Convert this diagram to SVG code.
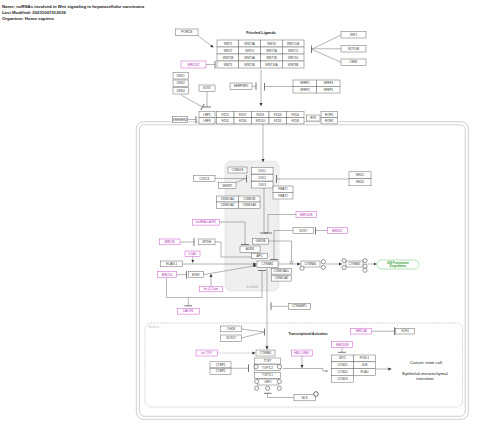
<svg xmlns="http://www.w3.org/2000/svg" width="480" height="428" viewBox="0 0 480 428">
<style>
text{font-family:"Liberation Sans",Arial,sans-serif}
.hd{font-size:4.3px;font-weight:bold;fill:#222}
.n rect{fill:#fff;stroke:#666;stroke-width:0.5}
.n text{font-size:3px;fill:#333;text-anchor:middle;dominant-baseline:central}
.p rect{stroke:#cc55cc}
.p text{fill:#b030b0}
.e{fill:none;stroke:#777;stroke-width:0.55}
.ar{marker-end:url(#a)}
.tb{marker-end:url(#t)}
.s{fill:#fff;stroke:#333;stroke-width:0.5}
.lbl{font-size:3.8px;font-weight:bold;fill:#222;text-anchor:middle}
.cell{fill:none;stroke:#bbb;stroke-width:0.7}
</style>
<defs>
<marker id="a" viewBox="0 0 6 6" refX="6" refY="3" markerWidth="3.2" markerHeight="3.2" orient="auto" markerUnits="userSpaceOnUse"><path d="M0,0L6,3L0,6z" fill="#333"/></marker>
<marker id="t" viewBox="0 0 2 8" refX="1" refY="4" markerWidth="2" markerHeight="8" orient="auto" markerUnits="userSpaceOnUse"><path d="M1,0V8" stroke="#555" stroke-width="0.8"/></marker>
<marker id="o" viewBox="0 0 6 6" refX="6" refY="3" markerWidth="3" markerHeight="3" orient="auto" markerUnits="userSpaceOnUse"><path d="M0,0L6,3L0,6" fill="none" stroke="#555" stroke-width="0.8"/></marker>
</defs>
<rect width="480" height="428" fill="#fff"/>
<text class="hd" x="2" y="8">Name: ncRNAs involved in Wnt signaling in hepatocellular carcinoma</text>
<text class="hd" x="2" y="13.8">Last Modified: 20231007012036</text>
<text class="hd" x="2" y="19.6">Organism: Homo sapiens</text>

<g id="compartments">
<rect class="cell" x="136.3" y="121.8" width="332" height="297.5" rx="7"/>
<rect class="cell" x="139.3" y="124.8" width="326" height="291.5" rx="5"/>
<rect x="145" y="323" width="317.5" height="84" rx="6" fill="none" stroke="#aaa" stroke-width="0.6" stroke-dasharray="1,0.8"/>
<text x="148.3" y="327.8" font-size="3px" fill="#bbb">Nucleus</text>
<rect x="225" y="161" width="54" height="130" rx="6" fill="#efefef" stroke="#ddd" stroke-width="0.6"/>
<text x="252" y="287.5" font-size="3.2px" fill="#aaa" text-anchor="middle">Scaffold</text>
</g>

<g id="labels">
<text class="lbl" x="261" y="34.3">Frizzled Ligands</text>
<text x="308" y="334.8" font-size="3.2px" font-weight="bold" fill="#222" text-anchor="middle">Transcriptional Activation</text>
<text x="426" y="364" font-size="4.3px" fill="#222" text-anchor="middle">Cancer stem cell</text>
<text x="425" y="375" font-size="4.3px" fill="#222" text-anchor="middle">Epithelial-mesenchymal</text>
<text x="425" y="380.3" font-size="4.3px" fill="#222" text-anchor="middle">transition</text>
</g>

<g id="connectors">
<path class="e ar" d="M197,35L213.5,47.5"/>
<path class="e tb" d="M206,64.5H215"/>
<path class="e" d="M341,35L311.5,49.3M341,48.8H311.5M341,62.3L311.5,49.3"/>
<path d="M311.5,45.5V53" stroke="#555" stroke-width="0.8"/>
<path class="e ar" d="M261,70V106"/>
<path class="e tb" d="M252,86.3H256"/>
<path class="e tb" d="M293,86.5H264.5"/>
<path class="e tb" d="M181,95L202.5,107"/>
<path class="e tb" d="M207,91.5V107"/>
<path class="e tb" d="M187.5,119.5H196"/>
<path class="e ar" d="M263,124V162"/>
<path class="e tb" d="M215,178.5H246.5"/>
<path class="e" d="M236,182.5L245.5,178.5"/>
<path class="e tb" d="M349,179H276.5"/>
<path class="e tb" d="M264,188V233"/>
<path class="e tb" d="M296,214.5H268V233"/>
<path class="e tb" d="M293,230.5H274V259.5"/>
<path class="e tb" d="M327.3,230.5H315.5"/>
<path class="e tb" d="M219.3,222H245V244.5"/>
<path class="e tb" d="M180,242H194"/>
<path class="e" d="M215,242H221V257H251.7"/>
<path class="e ar" d="M192.7,256.5V262.8"/>
<path class="e ar" d="M182.7,264H256.5"/>
<path class="e tb" d="M176.7,274.7H186.5"/>
<path class="e ar" d="M203.3,274.7L256.5,265.5"/>
<path class="e ar" d="M211,286.3V274"/>
<path class="e tb" d="M166.5,277.7V297.5H188.3V305.8"/>
<path class="e tb" d="M188.3,297.5H262V270.5"/>
<path class="e ar" d="M267,267.3V349.5"/>
<path class="e tb" d="M288.3,306.3H271"/>
<path class="e" d="M241.7,329L264.5,332M241.7,338L264.5,332"/>
<path d="M264.5,328.5V335.5" stroke="#555" stroke-width="0.8"/>
<path class="e ar" d="M217.3,353H255.5" stroke-dasharray="0.8,0.8"/>
<path class="e tb" d="M231,368.3H248.5"/>
<path class="e ar" d="M302,356V368"/>
<path class="e" d="M282.5,368.5H323V371H327.5" marker-end="url(#o)"/>
<path class="e tb" d="M342,347.4V352.3"/>
<path class="e tb" d="M371.7,331.2H394.5"/>
<path class="e ar" d="M376,369H391.5"/>
<path class="e tb" d="M294,397.5H267.5V393.3"/>
<path class="e" d="M268.3,241H291.5V261"/>
<circle cx="291.5" cy="262.5" r="1.4" fill="#fff" stroke="#555" stroke-width="0.5"/>
<path class="e ar" d="M278,264H300.5"/>
<path class="e ar" d="M325.5,264H342"/>
<path class="e ar" d="M367.5,264H376.7"/>
</g>

<g id="PORCN" class="n"><rect x="175.5" y="29" width="22.5" height="6.5"/><text x="186.75" y="32.25">PORCN</text></g>
<g id="WIF1" class="n"><rect x="341" y="31.5" width="25" height="6.5"/><text x="353.5" y="34.75">WIF1</text></g>
<g id="NOTUM" class="n"><rect x="341" y="45.5" width="25" height="6.5"/><text x="353.5" y="48.75">NOTUM</text></g>
<g id="CER1" class="n"><rect x="341" y="59" width="25" height="6.5"/><text x="353.5" y="62.25">CER1</text></g>
<g id="MIR1207" class="n p"><rect x="181" y="61" width="25" height="7"/><text x="193.5" y="64.5">MIR1207</text></g>

<g id="WNT_ligands">
<g id="WNT1" class="n"><rect x="217" y="40" width="21.75" height="7"/><text x="227.9" y="43.5">WNT1</text></g>
<g id="WNT3A" class="n"><rect x="238.75" y="40" width="21.75" height="7"/><text x="249.6" y="43.5">WNT3A</text></g>
<g id="WNT6" class="n"><rect x="260.5" y="40" width="21.75" height="7"/><text x="271.4" y="43.5">WNT6</text></g>
<g id="WNT10B" class="n"><rect x="282.25" y="40" width="21.75" height="7"/><text x="293.1" y="43.5">WNT10B</text></g>
<g id="WNT2" class="n"><rect x="217" y="47" width="21.75" height="7"/><text x="227.9" y="50.5">WNT2</text></g>
<g id="WNT4" class="n"><rect x="238.75" y="47" width="21.75" height="7"/><text x="249.6" y="50.5">WNT4</text></g>
<g id="WNT7A" class="n"><rect x="260.5" y="47" width="21.75" height="7"/><text x="271.4" y="50.5">WNT7A</text></g>
<g id="WNT11" class="n"><rect x="282.25" y="47" width="21.75" height="7"/><text x="293.1" y="50.5">WNT11</text></g>
<g id="WNT2B" class="n"><rect x="217" y="54" width="21.75" height="7"/><text x="227.9" y="57.5">WNT2B</text></g>
<g id="WNT5A" class="n"><rect x="238.75" y="54" width="21.75" height="7"/><text x="249.6" y="57.5">WNT5A</text></g>
<g id="WNT7B" class="n"><rect x="260.5" y="54" width="21.75" height="7"/><text x="271.4" y="57.5">WNT7B</text></g>
<g id="WNT16" class="n"><rect x="282.25" y="54" width="21.75" height="7"/><text x="293.1" y="57.5">WNT16</text></g>
<g id="WNT3" class="n"><rect x="217" y="61" width="21.75" height="7"/><text x="227.9" y="64.5">WNT3</text></g>
<g id="WNT5B" class="n"><rect x="238.75" y="61" width="21.75" height="7"/><text x="249.6" y="64.5">WNT5B</text></g>
<g id="WNT10A" class="n"><rect x="260.5" y="61" width="21.75" height="7"/><text x="271.4" y="64.5">WNT10A</text></g>
<g id="WNT8B" class="n"><rect x="282.25" y="61" width="21.75" height="7"/><text x="293.1" y="64.5">WNT8B</text></g>
</g>

<g id="DKK1" class="n"><rect x="173" y="72.5" width="15.5" height="6.5"/><text x="180.75" y="75.75">DKK1</text></g>
<g id="DKK2" class="n"><rect x="173" y="80" width="15.5" height="6.5"/><text x="180.75" y="83.25">DKK2</text></g>
<g id="DKK4" class="n"><rect x="173" y="87.5" width="15.5" height="6.5"/><text x="180.75" y="90.75">DKK4</text></g>
<g id="SOST" class="n"><rect x="199" y="85" width="16" height="6.5"/><text x="207" y="88.25">SOST</text></g>
<g id="SERPINF1" class="n"><rect x="230" y="83" width="22" height="6.5"/><text x="241" y="86.25">SERPINF1</text></g>
<g id="SFRP">
<g id="SFRP1" class="n"><rect x="293" y="80" width="23.5" height="6.5"/><text x="304.75" y="83.25">SFRP1</text></g>
<g id="SFRP4" class="n"><rect x="316.5" y="80" width="23.5" height="6.5"/><text x="328.25" y="83.25">SFRP4</text></g>
<g id="SFRP2" class="n"><rect x="293" y="86.5" width="23.5" height="6.5"/><text x="304.75" y="89.75">SFRP2</text></g>
<g id="SFRP5" class="n"><rect x="316.5" y="86.5" width="23.5" height="6.5"/><text x="328.25" y="89.75">SFRP5</text></g>
</g>

<g id="KREMEN1" class="n"><rect x="172.5" y="116.5" width="15" height="6"/><text x="180" y="119.5">KREMEN1</text></g>
<g id="receptors">
<g id="LRP5" class="n"><rect x="199" y="111.5" width="16" height="6.2"/><text x="207" y="114.6">LRP5</text></g>
<g id="LRP6" class="n"><rect x="199" y="117.7" width="16" height="6.2"/><text x="207" y="120.8">LRP6</text></g>
<g id="FZD1" class="n"><rect x="216.5" y="111.5" width="17.5" height="6.2"/><text x="225.25" y="114.6">FZD1</text></g>
<g id="FZD7" class="n"><rect x="234" y="111.5" width="17.5" height="6.2"/><text x="242.75" y="114.6">FZD7</text></g>
<g id="FZD9" class="n"><rect x="251.5" y="111.5" width="17.5" height="6.2"/><text x="260.25" y="114.6">FZD9</text></g>
<g id="FZD3" class="n"><rect x="269" y="111.5" width="17.5" height="6.2"/><text x="277.75" y="114.6">FZD3</text></g>
<g id="FZD4" class="n"><rect x="286.5" y="111.5" width="17.5" height="6.2"/><text x="295.25" y="114.6">FZD4</text></g>
<g id="FZD2" class="n"><rect x="216.5" y="117.7" width="17.5" height="6.2"/><text x="225.25" y="120.8">FZD2</text></g>
<g id="FZD6" class="n"><rect x="234" y="117.7" width="17.5" height="6.2"/><text x="242.75" y="120.8">FZD6</text></g>
<g id="FZD10" class="n"><rect x="251.5" y="117.7" width="17.5" height="6.2"/><text x="260.25" y="120.8">FZD10</text></g>
<g id="FZD5" class="n"><rect x="269" y="117.7" width="17.5" height="6.2"/><text x="277.75" y="120.8">FZD5</text></g>
<g id="FZD8" class="n"><rect x="286.5" y="117.7" width="17.5" height="6.2"/><text x="295.25" y="120.8">FZD8</text></g>
<g id="RYK" class="n"><rect x="306.5" y="115" width="13.5" height="6"/><text x="313.25" y="118">RYK</text></g>
<g id="ROR1" class="n"><rect x="321" y="111.5" width="16.5" height="6.2"/><text x="329.25" y="114.6">ROR1</text></g>
<g id="ROR2" class="n"><rect x="321" y="117.7" width="16.5" height="6.2"/><text x="329.25" y="120.8">ROR2</text></g>
</g>

<g id="CSNK1E" class="n"><rect x="228" y="167" width="19" height="6"/><text x="237.5" y="170">CSNK1E</text></g>
<g id="DVL1" class="n"><rect x="251.5" y="167.5" width="21.5" height="6.5"/><text x="262.25" y="170.75">DVL1</text></g>
<g id="DVL2" class="n"><rect x="251.5" y="174.5" width="21.5" height="6.5"/><text x="262.25" y="177.75">DVL2</text></g>
<g id="DVL3" class="n"><rect x="251.5" y="181.5" width="21.5" height="6.5"/><text x="262.25" y="184.75">DVL3</text></g>
<g id="CXXC4" class="n"><rect x="193.5" y="175.5" width="21.5" height="6"/><text x="204.25" y="178.5">CXXC4</text></g>
<g id="SENP2" class="n"><rect x="218.5" y="182.5" width="17.5" height="6"/><text x="227.25" y="185.5">SENP2</text></g>
<g id="NKD1" class="n"><rect x="349" y="171.8" width="22" height="7"/><text x="360" y="175.3">NKD1</text></g>
<g id="NKD2" class="n"><rect x="349" y="178.8" width="22" height="7"/><text x="360" y="182.3">NKD2</text></g>
<g id="FRAT1" class="n"><rect x="273" y="186" width="20" height="6.5"/><text x="283" y="189.25">FRAT1</text></g>
<g id="FRAT2" class="n"><rect x="273" y="192.5" width="20" height="6.5"/><text x="283" y="195.75">FRAT2</text></g>
<g id="CSNK2A1" class="n"><rect x="216.5" y="196" width="22" height="6"/><text x="227.5" y="199">CSNK2A1</text></g>
<g id="CSNK2B" class="n"><rect x="238.5" y="196" width="21.5" height="6"/><text x="249.25" y="199">CSNK2B</text></g>
<g id="CSNK2A2" class="n"><rect x="216.5" y="202" width="22" height="6.3"/><text x="227.5" y="205.15">CSNK2A2</text></g>
<g id="CSNK2A3" class="n"><rect x="238.5" y="202" width="21.5" height="6.3"/><text x="249.25" y="205.15">CSNK2A3</text></g>
<g id="MIR520B" class="n p"><rect x="296" y="211.5" width="20.5" height="6"/><text x="306.25" y="214.5">MIR520B</text></g>
<g id="lncRNA-LALR1" class="n p"><rect x="192.7" y="219.3" width="26.6" height="5.8"/><text x="206" y="222.2">lncRNA-LALR1</text></g>
<g id="SOX7" class="n"><rect x="293" y="227.5" width="20.5" height="6"/><text x="303.25" y="230.5">SOX7</text></g>
<g id="MIR452" class="n p"><rect x="327.3" y="227.5" width="20" height="6"/><text x="337.3" y="230.5">MIR452</text></g>
<g id="GSK3B" class="n"><rect x="252.7" y="238.3" width="15.6" height="5.8"/><text x="260.5" y="241.2">GSK3B</text></g>
<g id="MIR195" class="n p"><rect x="159.5" y="239" width="20.5" height="5.8"/><text x="169.75" y="241.9">MIR195</text></g>
<g id="MTDH" class="n"><rect x="198.5" y="239" width="16.5" height="5.8"/><text x="206.75" y="241.9">MTDH</text></g>
<g id="AXIN1" class="n"><rect x="240" y="246" width="20" height="6.3"/><text x="250" y="249.15">AXIN1</text></g>
<g id="UCA1" class="n p"><rect x="185" y="251" width="15" height="5.5"/><text x="192.5" y="253.75">UCA1</text></g>
<g id="APC" class="n"><rect x="251.7" y="253.2" width="15.7" height="5.2"/><text x="259.55" y="255.8">APC</text></g>
<g id="ELAVL1" class="n"><rect x="160.7" y="261" width="22" height="5.8"/><text x="171.7" y="263.9">ELAVL1</text></g>
<g id="CTNNB1" class="n"><rect x="257" y="261" width="21" height="6.3"/><text x="267.5" y="264.15">CTNNB1</text></g>
<g id="CTNNB1_phos" class="n"><rect x="301" y="261" width="19" height="6"/><text x="310.5" y="264">CTNNB1</text>
<circle class="s" cx="323.3" cy="261.7" r="2.1"/><circle class="s" cx="323.3" cy="267.3" r="2.1"/><circle class="s" cx="302" cy="268.2" r="2.1" stroke-width="0.8"/></g>
<g id="CTNNB1_ub" class="n"><rect x="346" y="261" width="17" height="6"/><text x="354.5" y="264">CTNNB1</text>
<circle class="s" cx="344" cy="260.7" r="2.1"/><circle class="s" cx="344" cy="267.5" r="2.1"/><circle class="s" cx="365" cy="260.7" r="2.1"/><circle class="s" cx="365" cy="266.2" r="2.1"/><circle class="s" cx="365" cy="270.3" r="2.1"/></g>
<g id="Proteasome26S"><rect x="377" y="260" width="42" height="9" rx="4.5" fill="#fff" stroke="#7fd17f" stroke-width="0.6"/>
<text x="398" y="263.9" font-size="2.8px" font-weight="bold" fill="#2e9e2e" text-anchor="middle">26S Proteasome</text>
<text x="398" y="267.3" font-size="2.8px" font-weight="bold" fill="#2e9e2e" text-anchor="middle">Degradation</text></g>
<g id="CSNK1A1L" class="n"><rect x="271.5" y="268.3" width="20" height="5.8"/><text x="281.5" y="271.2">CSNK1A1L</text></g>
<g id="CSNK1A1" class="n"><rect x="271.5" y="275.3" width="20" height="5.8"/><text x="281.5" y="278.2">CSNK1A1</text></g>
<g id="MIR214" class="n p"><rect x="157.3" y="271.7" width="19.4" height="6"/><text x="167" y="274.7">MIR214</text></g>
<g id="EZH2" class="n"><rect x="188.3" y="271.7" width="15" height="6"/><text x="195.8" y="274.7">EZH2</text></g>
<g id="lnc-beta-Catm" class="n p"><rect x="199.3" y="286.3" width="23.4" height="5.5"/><text x="211" y="289.05">lnc-β-Catm</text></g>
<g id="CTNNBIP1" class="n"><rect x="288.3" y="303.3" width="22" height="6"/><text x="299.3" y="306.3">CTNNBIP1</text></g>
<g id="DACH1" class="n p"><rect x="177.3" y="308.3" width="22" height="5.8"/><text x="188.3" y="311.2">DACH1</text></g>
<g id="CHD8" class="n"><rect x="220.7" y="326" width="21" height="5.8"/><text x="231.2" y="328.9">CHD8</text></g>
<g id="SOX17" class="n"><rect x="220.7" y="335" width="21" height="6.3"/><text x="231.2" y="338.15">SOX17</text></g>
<g id="CTNNB1_nuc" class="n"><rect x="256" y="350" width="19" height="6"/><text x="265.5" y="353">CTNNB1</text></g>
<g id="lncTCF7" class="n p"><rect x="196" y="350" width="21.3" height="6"/><text x="206.65" y="353">lncTCF7</text></g>
<g id="HBX-LINE1" class="n p"><rect x="291.7" y="350" width="20.5" height="6"/><text x="301.95" y="353">HBX-LINE1</text></g>
<g id="TCF_LEF">
<g id="TCF7" class="n"><rect x="254.5" y="358" width="26" height="6"/><text x="267.5" y="361">TCF7</text></g>
<g id="TCF7L2" class="n"><rect x="254.5" y="364.5" width="26" height="6"/><text x="267.5" y="367.5">TCF7L2</text></g>
<g id="TCF7L1" class="n"><rect x="254.5" y="372.3" width="26" height="6"/><text x="267.5" y="375.3">TCF7L1</text></g>
<g id="LEF1" class="n"><rect x="257.5" y="379" width="21" height="6"/><text x="268" y="382">LEF1</text></g>
<circle class="s" cx="256" cy="366.7" r="2.1"/><circle class="s" cx="279.5" cy="366.7" r="2.1"/>
<circle class="s" cx="256.7" cy="381.5" r="2.1"/><circle class="s" cx="279.3" cy="381.5" r="2.1"/>
<circle class="s" cx="256.7" cy="388.3" r="2.1"/><circle class="s" cx="267.7" cy="388.3" r="2.1"/><circle class="s" cx="279.3" cy="388.3" r="2.1"/>
</g>
<g id="CTBP1" class="n"><rect x="210" y="361.8" width="21" height="6"/><text x="220.5" y="364.8">CTBP1</text></g>
<g id="CTBP2" class="n"><rect x="210" y="368.3" width="21" height="6.2"/><text x="220.5" y="371.4">CTBP2</text></g>
<g id="MIR203B" class="n p"><rect x="331.7" y="341.7" width="21" height="5.7"/><text x="342.2" y="344.55">MIR203B</text></g>
<g id="MIR10A" class="n p"><rect x="350.7" y="328.3" width="21" height="5.7"/><text x="361.2" y="331.15">MIR10A</text></g>
<g id="KLF4" class="n"><rect x="395.5" y="328.3" width="19" height="5.7"/><text x="405" y="331.15">KLF4</text></g>
<g id="targets">
<g id="MYC" class="n"><rect x="331.7" y="355" width="21.8" height="6.8"/><text x="342.6" y="358.4">MYC</text></g>
<g id="CCND1" class="n"><rect x="331.7" y="361.8" width="21.8" height="6.8"/><text x="342.6" y="365.2">CCND1</text></g>
<g id="CCND2" class="n"><rect x="331.7" y="368.6" width="21.8" height="6.8"/><text x="342.6" y="372">CCND2</text></g>
<g id="CCND3" class="n"><rect x="331.7" y="375.4" width="21.8" height="6.8"/><text x="342.6" y="378.8">CCND3</text></g>
<g id="FOSL1" class="n"><rect x="353.5" y="355" width="21.8" height="6.8"/><text x="364.4" y="358.4">FOSL1</text></g>
<g id="JUN" class="n"><rect x="353.5" y="361.8" width="21.8" height="6.8"/><text x="364.4" y="365.2">JUN</text></g>
<g id="PLAU" class="n"><rect x="353.5" y="368.6" width="21.8" height="6.8"/><text x="364.4" y="372">PLAU</text></g>
</g>
<g id="NLK" class="n"><rect x="294" y="394.3" width="21.5" height="6.5"/><text x="304.75" y="397.55">NLK</text>
<circle cx="316" cy="394" r="2.3" fill="#fff" stroke="#333" stroke-width="0.7"/></g>
</svg>
